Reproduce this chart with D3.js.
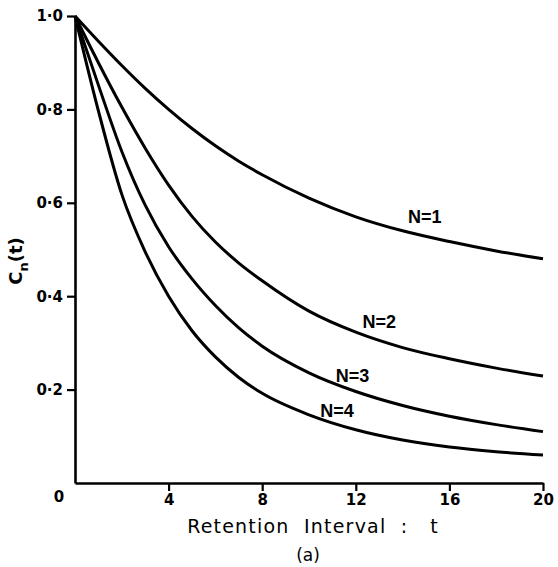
<!DOCTYPE html>
<html>
<head>
<meta charset="utf-8">
<script src="https://cdn.jsdelivr.net/npm/d3@7"></script>
<style>
  body { margin: 0; background: #fff; }
  text { font-family: 'DejaVu Sans', sans-serif; fill: #000; }
</style>
</head>
<body>
<svg id="chart" width="558" height="567"></svg>
<script>
const times = [0, 1, 2, 3, 4, 5, 6, 7, 8, 10, 12, 14, 16, 18, 20];
const seriesNames = ['N=1', 'N=2', 'N=3', 'N=4'];
const n1 = [1.0, 0.946, 0.894, 0.845, 0.8, 0.759, 0.722, 0.689, 0.66, 0.61, 0.57, 0.54, 0.517, 0.497, 0.48];
const n2 = [1.0, 0.9, 0.805, 0.717, 0.638, 0.571, 0.516, 0.471, 0.433, 0.368, 0.323, 0.29, 0.266, 0.246, 0.229];
const n3 = [1.0, 0.852, 0.71, 0.595, 0.506, 0.437, 0.38, 0.332, 0.293, 0.236, 0.196, 0.166, 0.143, 0.125, 0.11];
const n4 = [1.0, 0.797, 0.618, 0.495, 0.4, 0.326, 0.27, 0.226, 0.192, 0.146, 0.114, 0.092, 0.077, 0.067, 0.06];
const xTicks = [4, 8, 12, 16, 20];
const yTicks = [0.2, 0.4, 0.6, 0.8, 1.0];

const margin = { top: 16, right: 15, bottom: 84, left: 75 };
const svg = d3.select('#chart');
const width = +svg.attr('width') - margin.left - margin.right;
const height = +svg.attr('height') - margin.top - margin.bottom;
const g = svg.append('g').attr('transform', `translate(${margin.left},${margin.top})`);

const x = d3.scaleLinear().domain([0, 20]).range([0, width]);
const y = d3.scaleLinear().domain([0, 1]).range([height, 0]);

const fmt = (d) => d3.format('.1f')(d).replace('.', '\u00b7');

const xAxis = g.append('g')
  .attr('transform', `translate(0,${height})`)
  .call(d3.axisBottom(x).tickValues(xTicks).tickSize(8).tickSizeOuter(0).tickPadding(3).tickFormat(d3.format('d')));

const yAxis = g.append('g')
  .call(d3.axisLeft(y).tickValues(yTicks).tickSize(8).tickSizeOuter(0).tickPadding(4).tickFormat(fmt));

[xAxis, yAxis].forEach((a) => {
  a.select('.domain').attr('stroke', '#000').attr('stroke-width', 2.6);
  a.selectAll('.tick line').attr('stroke', '#000').attr('stroke-width', 2.2);
  a.selectAll('.tick text')
    .style('font-family', "'DejaVu Sans', sans-serif")
    .style('font-size', '15px')
    .style('font-weight', 'bold')
    .attr('fill', '#000');
});

// shared origin label
g.append('text')
  .attr('x', x(0) - 16)
  .attr('y', y(0) + 19)
  .attr('text-anchor', 'middle')
  .style('font-size', '15px')
  .style('font-weight', 'bold')
  .text('0');

const line = d3
  .line()
  .x((d, i) => x(times[i]))
  .y((d) => y(d))
  .curve(d3.curveMonotoneX);

const series = [n1, n2, n3, n4];

g.selectAll('.line')
  .data(series)
  .join('path')
  .attr('class', 'line')
  .attr('fill', 'none')
  .attr('stroke', '#000')
  .attr('stroke-width', 3)
  .attr('stroke-linejoin', 'round')
  .attr('d', (d) => line(d));

// label spots in data units (t, value)
const labelSpots = [[14.95, 0.557], [13.0, 0.332], [11.86, 0.216], [11.2, 0.141]];

g.selectAll('.line-label')
  .data(seriesNames)
  .join('text')
  .attr('class', 'line-label')
  .attr('x', (d, i) => x(labelSpots[i][0]))
  .attr('y', (d, i) => y(labelSpots[i][1]))
  .attr('text-anchor', 'middle')
  .style('font-family', "'Liberation Sans', sans-serif")
  .style('font-size', '18px')
  .style('font-weight', 'bold')
  .text((d) => d);

g.append('text')
  .attr('x', 238)
  .attr('y', height + 50)
  .attr('text-anchor', 'middle')
  .style('font-size', '19px')
  .style('letter-spacing', '1.2px')
  .style('white-space', 'pre')
  .text('Retention  Interval  :   t');

g.append('text')
  .attr('x', 233)
  .attr('y', height + 78)
  .attr('text-anchor', 'middle')
  .style('font-size', '17px')
  .text('(a)');

const yLabel = svg.append('text')
  .attr('transform', 'translate(22,261) rotate(-90)')
  .attr('text-anchor', 'middle')
  .style('font-size', '18px')
  .style('font-weight', 'bold');
yLabel.append('tspan').text('C');
yLabel.append('tspan').attr('dy', 6).style('font-size', '13px').text('n');
yLabel.append('tspan').attr('dy', -6).text('(t)');
</script>
</body>
</html>
